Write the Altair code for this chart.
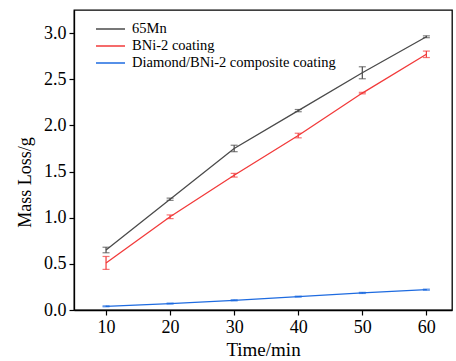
import altair as alt
import pandas as pd

times = [10, 20, 30, 40, 50, 60]
series_names = ["65Mn", "BNi-2 coating", "Diamond/BNi-2 composite coating"]
mn65 = [0.65, 1.20, 1.75, 2.16, 2.57, 2.96]
mn65_err = [0.03, 0.012, 0.035, 0.012, 0.065, 0.01]
bni2 = [0.51, 1.01, 1.46, 1.89, 2.35, 2.77]
bni2_err = [0.07, 0.02, 0.02, 0.025, 0.008, 0.035]
dia = [0.04, 0.07, 0.105, 0.145, 0.185, 0.22]
dia_err = [0.005, 0.005, 0.006, 0.005, 0.006, 0.006]
colors = ["#4a4a4a", "#f23a3a", "#1e6be0"]

rows = []
for name, vals, errs in zip(series_names, [mn65, bni2, dia], [mn65_err, bni2_err, dia_err]):
    for t, v, e in zip(times, vals, errs):
        rows.append({"time": t, "loss": v, "lo": v - e, "hi": v + e, "series": name})
df = pd.DataFrame(rows)

FONT = "'Times New Roman', 'Liberation Serif', Times, serif"
xsc = alt.Scale(domain=[5, 64], nice=False, zero=False)
ysc = alt.Scale(domain=[0, 3.25], nice=False, zero=False)
csc = alt.Scale(domain=series_names, range=colors)

base = alt.Chart(df)

lines = base.mark_line(strokeWidth=1.3).encode(
    x=alt.X("time:Q", scale=xsc, title="Time/min",
            axis=alt.Axis(values=times, format="d", labelFont=FONT, titleFont=FONT,
                          titleFontWeight="normal", labelFontSize=18, titleFontSize=19,
                          titlePadding=4)),
    y=alt.Y("loss:Q", scale=ysc, title="Mass Loss/g",
            axis=alt.Axis(values=[0, 0.5, 1.0, 1.5, 2.0, 2.5, 3.0], format=".1f",
                          labelFont=FONT, titleFont=FONT, titleFontWeight="normal",
                          labelFontSize=18, titleFontSize=18, titlePadding=9,
                          titleY=172)),
    color=alt.Color("series:N", scale=csc, sort=series_names,
                    legend=alt.Legend(title=None, orient="none", legendX=21, legendY=11,
                                      symbolType="stroke", symbolSize=841,
                                      symbolStrokeWidth=1.5, labelFont=FONT,
                                      labelFontSize=14.5, labelColor="#000", labelLimit=0,
                                      clipHeight=16, rowPadding=1, padding=0,
                                      labelOffset=6)),
)

rules = base.mark_rule(strokeWidth=1.2).encode(
    x="time:Q", y="lo:Q", y2="hi:Q",
    color=alt.Color("series:N", scale=csc, legend=None),
)
tick_lo = base.mark_tick(thickness=1.2, size=7, orient="horizontal").encode(
    x="time:Q", y="lo:Q", color=alt.Color("series:N", scale=csc, legend=None),
)
tick_hi = base.mark_tick(thickness=1.2, size=7, orient="horizontal").encode(
    x="time:Q", y="hi:Q", color=alt.Color("series:N", scale=csc, legend=None),
)

chart = alt.layer(lines, rules, tick_lo, tick_hi).properties(
    width=378, height=300,
    autosize=alt.AutoSizeParams(type="none"),
    padding={"left": 74, "top": 10, "right": 4, "bottom": 51},
).configure(
    font=FONT
).configure_view(
    stroke="#000", strokeWidth=1.3
).configure_axis(
    grid=False, domainColor="#000", domainWidth=1.3, tickColor="#000",
    tickSize=5, tickWidth=1.2, labelColor="#000", titleColor="#000", labelPadding=3,
)

chart.save("out.html", embed_options={"renderer": "svg", "actions": False})
